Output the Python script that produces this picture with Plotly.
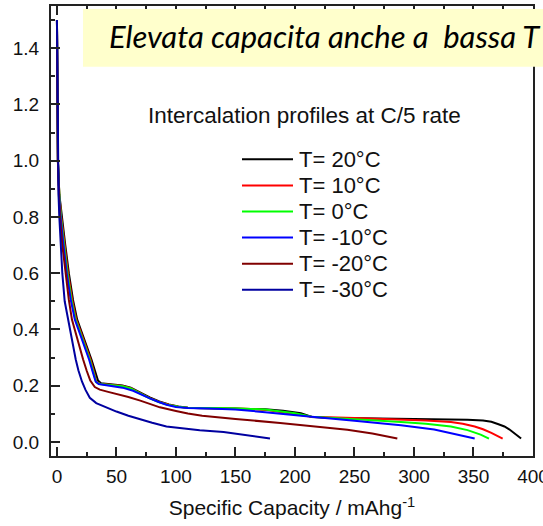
import plotly.graph_objects as go

# Intercalation (discharge) profiles at C/5 for several temperatures
names = ["T= 20°C", "T= 10°C", "T= 0°C", "T= -10°C", "T= -20°C", "T= -30°C"]
colors = ["#000000", "#FF0000", "#00FF00", "#0000FF", "#800000", "#0000A0"]

cap_20 = [0, 0.3, 0.8, 2, 4, 7, 10, 13.5, 17, 20, 23, 26, 29, 32, 34.5, 37, 45, 55, 62, 70, 78, 86,
          94, 102, 110, 120, 150, 175, 190, 200, 205, 210, 214, 225, 250, 297, 330, 345, 358, 365,
          371, 376, 380, 384, 387, 390]
v_20 = [1.50, 1.30, 1.00, 0.88, 0.80, 0.70, 0.60, 0.505, 0.435, 0.40, 0.365, 0.33, 0.293, 0.252,
        0.218, 0.209, 0.206, 0.201, 0.193, 0.175, 0.158, 0.144, 0.133, 0.126, 0.122, 0.120, 0.119,
        0.116, 0.111, 0.106, 0.102, 0.095, 0.089, 0.086, 0.085, 0.083, 0.081, 0.079, 0.076, 0.072,
        0.063, 0.055, 0.045, 0.033, 0.022, 0.012]

cap_10 = [0, 0.3, 0.8, 2, 3.6, 6.5, 9.3, 12.8, 16.2, 19.2, 22.2, 25.2, 28.2, 31, 33.2, 36, 45, 55,
          62, 70, 78, 86, 94, 102, 110, 120, 150, 175, 187.5, 200, 214, 250, 289, 310, 331, 341,
          351, 358, 365, 370, 374.5]
v_10 = [1.50, 1.30, 1.00, 0.88, 0.80, 0.70, 0.60, 0.505, 0.435, 0.40, 0.365, 0.33, 0.293, 0.250,
        0.213, 0.207, 0.204, 0.199, 0.191, 0.173, 0.156, 0.142, 0.132, 0.125, 0.122, 0.121, 0.120,
        0.114, 0.107, 0.100, 0.090, 0.085, 0.080, 0.076, 0.071, 0.065, 0.055, 0.045, 0.032, 0.022,
        0.012]

cap_0 = [0, 0.3, 0.8, 2, 3.3, 6, 8.8, 12.2, 15.6, 18.6, 21.6, 24.6, 27.6, 30.5, 33, 36, 45, 55,
         62, 70, 78, 86, 94, 102, 110, 128.6, 150, 175, 190, 200, 214, 250, 289, 310, 331, 345,
         356, 363]
v_0 = [1.50, 1.30, 1.00, 0.88, 0.80, 0.70, 0.60, 0.505, 0.435, 0.40, 0.365, 0.33, 0.293, 0.250,
       0.212, 0.206, 0.203, 0.198, 0.190, 0.172, 0.155, 0.141, 0.131, 0.125, 0.122, 0.121, 0.120,
       0.115, 0.108, 0.102, 0.090, 0.082, 0.071, 0.065, 0.055, 0.042, 0.026, 0.012]

cap_m10 = [0, 0.3, 0.8, 1.8, 3, 5.5, 8.2, 11.6, 15, 18, 21, 24, 27, 30, 32.5, 35, 45, 55, 64, 71,
           78, 85, 92, 100, 110, 128, 150, 175, 187.5, 200, 214, 250, 289, 317, 337, 351]
v_m10 = [1.50, 1.30, 1.00, 0.88, 0.80, 0.70, 0.60, 0.505, 0.435, 0.40, 0.365, 0.33, 0.293, 0.250,
         0.215, 0.206, 0.200, 0.193, 0.182, 0.168, 0.155, 0.143, 0.132, 0.124, 0.121, 0.119,
         0.115, 0.106, 0.100, 0.096, 0.090, 0.075, 0.059, 0.044, 0.026, 0.012]

cap_m20 = [0, 0.3, 0.8, 1.6, 2.5, 4.5, 7, 10, 12.6, 15.5, 19, 22, 25, 28, 31.8, 36, 43, 52.9, 60,
           70, 86.5, 100, 110, 122, 128.6, 150, 187.5, 220, 244, 265, 286]
v_m20 = [1.50, 1.30, 1.00, 0.88, 0.80, 0.70, 0.60, 0.505, 0.435, 0.39, 0.34, 0.293, 0.253, 0.218,
         0.195, 0.186, 0.178, 0.168, 0.160, 0.147, 0.123, 0.110, 0.101, 0.093, 0.090, 0.082,
         0.067, 0.054, 0.043, 0.030, 0.012]

cap_m30 = [0, 0.3, 0.7, 1.3, 2, 3.2, 4.5, 6.5, 9.3, 12.5, 15.8, 18, 21, 24, 27.6, 33, 40, 50, 60,
           70, 80, 92, 105, 120, 140, 157, 170, 179]
v_m30 = [1.50, 1.30, 1.00, 0.88, 0.80, 0.70, 0.60, 0.50, 0.435, 0.36, 0.293, 0.255, 0.215, 0.185,
         0.157, 0.138, 0.125, 0.108, 0.093, 0.080, 0.068, 0.055, 0.048, 0.042, 0.035, 0.024,
         0.017, 0.012]

capacities = [cap_20, cap_10, cap_0, cap_m10, cap_m20, cap_m30]
potentials = [v_20, v_10, v_0, v_m10, v_m20, v_m30]

x_ticks = [0, 50, 100, 150, 200, 250, 300, 350, 400]
y_ticks = [0.0, 0.2, 0.4, 0.6, 0.8, 1.0, 1.2, 1.4]

FONT = "Liberation Sans, Arial, sans-serif"
AXIS_COLOR = "#222222"
TEXT_COLOR = "#111111"

fig = go.Figure()
for cap, v, name, col in zip(capacities, potentials, names, colors):
    fig.add_trace(go.Scatter(x=cap, y=v, mode="lines", name=name,
                             line=dict(color=col, width=2), showlegend=False))

# Plot-area geometry, used to place the legend and the banner in paper units
L, R, T, B = 51, 10, 6, 70
W, H = 543, 526
pw, ph = W - L - R, H - T - B


def px_x(px):
    return (px - L) / pw


def px_y(py):
    return (H - B - py) / ph


shapes = []
annotations = []

# Legend: short coloured line followed by the label
for i, (name, col) in enumerate(zip(names, colors)):
    yc = 159.3 + i * 26.1
    shapes.append(dict(type="line", xref="paper", yref="paper",
                       x0=px_x(242), x1=px_x(293), y0=px_y(yc), y1=px_y(yc),
                       line=dict(color=col, width=2)))
    annotations.append(dict(xref="paper", yref="paper", x=px_x(297), y=px_y(yc),
                            xanchor="left", yanchor="middle", text=name, showarrow=False,
                            font=dict(family=FONT, size=22, color=TEXT_COLOR)))

annotations.append(dict(xref="paper", yref="paper", x=px_x(146), y=px_y(115),
                        xanchor="left", yanchor="middle",
                        text="Intercalation profiles at C/5 rate", showarrow=False,
                        font=dict(family=FONT, size=22.5, color=TEXT_COLOR)))

# Yellow banner at the top
shapes.append(dict(type="rect", xref="paper", yref="paper",
                   x0=px_x(83), x1=px_x(545), y0=px_y(66.7), y1=px_y(9),
                   fillcolor="#FFFFCC", line=dict(width=0), layer="above"))
annotations.append(dict(xref="paper", yref="paper", x=px_x(107), y=px_y(36),
                        xanchor="left", yanchor="middle",
                        text="Elevata capacita anche a\u00a0 bassa T", showarrow=False,
                        font=dict(family="Lato, Open Sans, sans-serif", size=31,
                                  color="#000000", style="italic")))

fig.update_layout(
    width=W, height=H,
    margin=dict(l=L, r=R, t=T, b=B, pad=0, autoexpand=False),
    paper_bgcolor="white", plot_bgcolor="white",
    font=dict(family=FONT, color=TEXT_COLOR),
    shapes=shapes, annotations=annotations,
)

fig.update_xaxes(
    range=[-5, 400], tickvals=x_ticks, ticktext=[str(v) for v in x_ticks],
    showgrid=False, zeroline=False, automargin=False,
    showline=True, linecolor=AXIS_COLOR, linewidth=2, mirror="allticks",
    ticks="inside", ticklen=9, tickwidth=2, tickcolor=AXIS_COLOR,
    minor=dict(dtick=25, tick0=0, ticks="inside", ticklen=4, tickwidth=2, tickcolor=AXIS_COLOR),
    tickfont=dict(family=FONT, size=19, color=TEXT_COLOR), ticklabelstandoff=2,
    ticklabeloverflow="allow",
    title=dict(text="Specific Capacity / mAhg<sup>-1</sup>",
               font=dict(family=FONT, size=21, color=TEXT_COLOR), standoff=15),
)
fig.update_yaxes(
    range=[-0.05, 1.55], tickvals=y_ticks, ticktext=[f"{v:.1f}" for v in y_ticks],
    showgrid=False, zeroline=False, automargin=False,
    showline=True, linecolor=AXIS_COLOR, linewidth=2, mirror=True,
    ticks="inside", ticklen=9, tickwidth=2, tickcolor=AXIS_COLOR,
    minor=dict(dtick=0.1, tick0=0, ticks="inside", ticklen=4, tickwidth=2, tickcolor=AXIS_COLOR),
    tickfont=dict(family=FONT, size=19, color=TEXT_COLOR), ticklabelstandoff=6,
)

fig.write_html("out.html")
